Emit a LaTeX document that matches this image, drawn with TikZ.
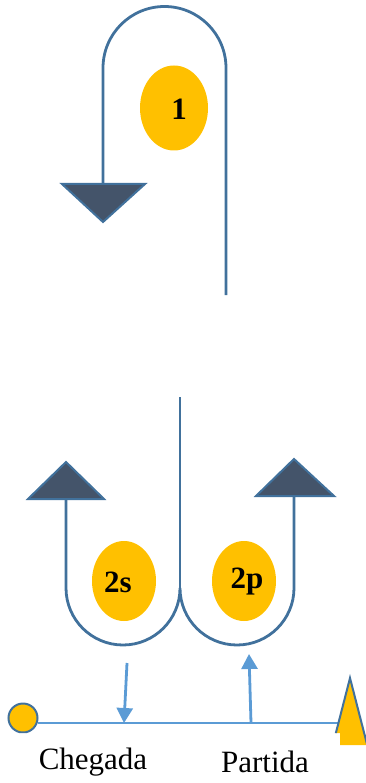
\documentclass[tikz,border=0pt]{standalone}
\usepackage{fontspec}
\setmainfont{Liberation Serif}
\usetikzlibrary{arrows.meta,shapes.geometric}
\definecolor{loopblue}{HTML}{41719C}
\definecolor{lightblue}{HTML}{5B9BD5}
\definecolor{darkslate}{HTML}{44546A}
\definecolor{gold}{HTML}{FFC000}
\tikzset{
  loopline/.style={draw=loopblue,line width=2.8pt},
  headtri/.style={fill=darkslate,draw=loopblue,line width=2pt,line join=miter},
  badge/.style={ellipse,fill=gold,minimum width=68pt,minimum height=85pt,inner sep=0pt},
  badgetext/.style={font=\fontsize{31}{31}\selectfont\bfseries,inner sep=0pt},
  axis/.style={draw=lightblue,line width=2.2pt},
  axarrow/.style={draw=lightblue,line width=2.8pt,-{Triangle[width=16pt,length=15pt]}},
  lbl/.style={font=\fontsize{31}{31}\selectfont,inner sep=0pt}
}
\begin{document}
\begin{tikzpicture}[x=1pt,y=-1pt]
\useasboundingbox (0,0) rectangle (366,783);
% top loop
\coordinate (t1) at (226,295);
\coordinate (t2) at (226,68);
\coordinate (t3) at (103,184);
\draw[loopline] (t1) -- (t2) arc (0:-180:61.5) -- (t3);
\draw[headtri] (62,184) -- (145,184) -- (103,222) -- cycle;
\node[badge] (n1) at (174,108) {};
\node[badgetext] (n1t) at (179,109) {1};
% bottom double U
\coordinate (c1) at (180,397);
\coordinate (c2) at (180,590);
\draw[loopline] (c1) -- (c2);
\coordinate (u1) at (66,499);
\coordinate (u2) at (294,496);
\draw[loopline] (u1) -- (66,588) arc (180:0:57) arc (180:0:57) -- (u2);
\draw[headtri] (28,499) -- (104,499) -- (66,462) -- cycle;
\draw[headtri] (256,496) -- (334,496) -- (294,459) -- cycle;
\node[badge,minimum width=64pt,minimum height=80pt] (n2s) at (124,581) {};
\node[badgetext] (n2st) at (118,582) {2s};
\node[badge,minimum width=64pt,minimum height=80pt] (n2p) at (244,581) {};
\node[badgetext] (n2pt) at (247,582) {2p};
% timeline
\begin{scope}
\clip (0,0) -- (366,0) -- (366,745) -- (340,745) -- (340,733) -- (0,733) -- cycle;
\node[circle,fill=gold,draw=loopblue,line width=2pt,minimum size=29pt,inner sep=0pt] (start) at (23,718) {};
\coordinate (s1) at (38,723);
\coordinate (tend) at (348,723);
\draw[axis] (s1) -- (tend);
\draw[fill=gold,draw=loopblue,line width=2pt] (350,678) -- (368,748) -- (332,748) -- cycle;
\end{scope}
\coordinate (a1) at (127,663);
\coordinate (a2) at (124,723);
\draw[axarrow] (a1) -- (a2);
\coordinate (b1) at (251,723);
\coordinate (b2) at (249,654);
\draw[axarrow] (b1) -- (b2);
\node[lbl] (lc) at (93,762) {Chegada};
\node[lbl] (lp) at (265,762) {Partida};
\end{tikzpicture}
\end{document}
